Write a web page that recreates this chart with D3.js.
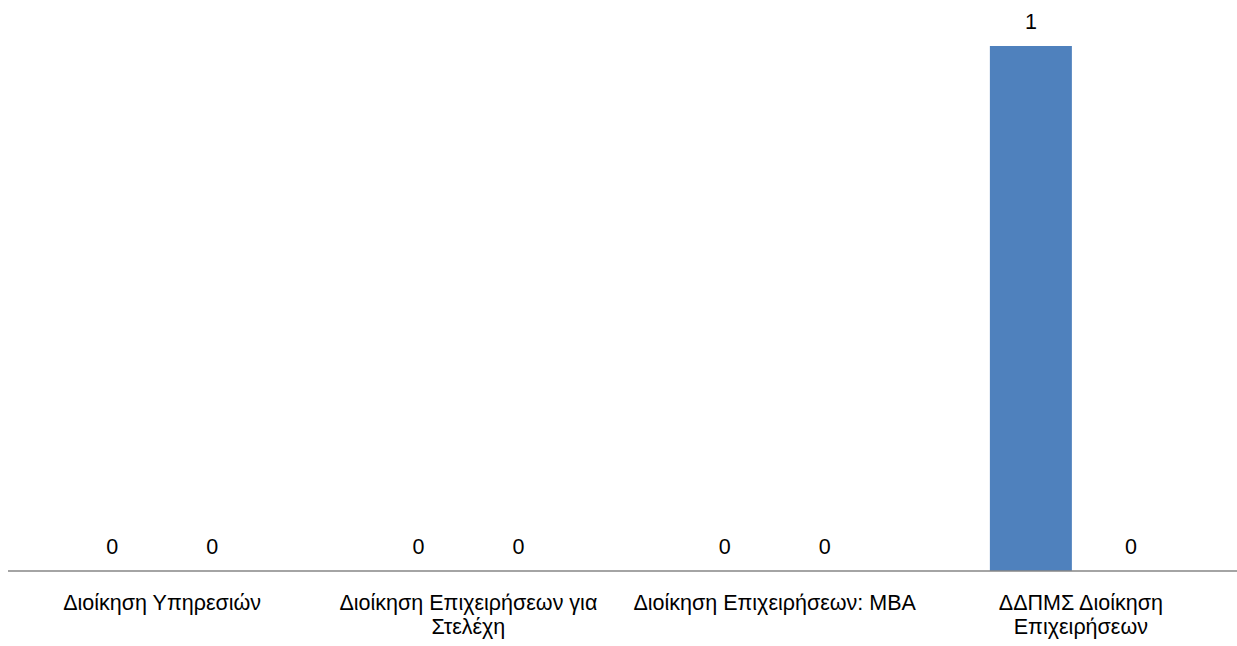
<!DOCTYPE html>
<html>
<head>
<meta charset="utf-8">
<script src="https://cdn.jsdelivr.net/npm/d3@7"></script>
<style>
  html, body { margin: 0; padding: 0; background: #fff; }
  svg text { font-family: "Liberation Sans", Arial, sans-serif; fill: #000; }
</style>
</head>
<body>
<svg id="chart" width="1237" height="646"></svg>
<script>
const categories = ["Διοίκηση Υπηρεσιών", "Διοίκηση Επιχειρήσεων για Στελέχη", "Διοίκηση Επιχειρήσεων: MBA", "ΔΔΠΜΣ Διοίκηση Επιχειρήσεων"];
const seriesNames = ["Σειρά 1", "Σειρά 2"];
const series1 = [0, 0, 0, 1];
const series2 = [0, 0, 0, 0];
const seriesColors = ["#4F81BD", "#C0504D"];

const svg = d3.select("#chart");
const plotLeft = 9, plotRight = 1234, plotTop = 46, plotBottom = 571;
const fontSize = 21.5;

const x0 = d3.scaleBand().domain(categories).range([plotLeft, plotRight]).padding(0);
const x1 = d3.scalePoint().domain(seriesNames).range([-50, 50]);
const barW = 82;
const y = d3.scaleLinear().domain([0, 1]).range([plotBottom, plotTop]);

const data = categories.map((c, i) => ({
  cat: c,
  vals: [series1[i], series2[i]].map((v, j) => ({ name: seriesNames[j], v, color: seriesColors[j] }))
}));

const g = svg.selectAll("g.cat").data(data).enter().append("g")
  .attr("class", "cat")
  .attr("transform", d => `translate(${x0(d.cat) + x0.bandwidth() / 2},0)`);

g.selectAll("rect").data(d => d.vals).enter().append("rect")
  .attr("x", d => x1(d.name) - barW / 2)
  .attr("width", barW)
  .attr("y", d => y(d.v))
  .attr("height", d => y(0) - y(d.v))
  .attr("fill", d => d.color);

g.selectAll("text.val").data(d => d.vals).enter().append("text")
  .attr("class", "val")
  .attr("x", d => x1(d.name))
  .attr("y", d => y(d.v) - 17.5)
  .attr("text-anchor", "middle")
  .style("font-size", fontSize + "px")
  .text(d => d.v);

// axis
const xAxis = d3.axisBottom(x0).tickSize(0).tickFormat("");
const ax = svg.append("g").attr("transform", `translate(0,${plotBottom})`).call(xAxis);
ax.select(".domain").attr("d", "M8,0H1237").attr("stroke", "#868686").attr("stroke-width", 1.5);

// category labels with wrapping
function wrapLines(text, maxW) {
  const words = text.split(" ");
  const lines = [];
  let cur = "";
  const tmp = svg.append("text").style("font-size", fontSize + "px");
  for (const w of words) {
    const test = cur ? cur + " " + w : w;
    tmp.text(test);
    if (tmp.node().getComputedTextLength() > maxW && cur) {
      lines.push(cur);
      cur = w;
    } else cur = test;
  }
  lines.push(cur);
  tmp.remove();
  return lines;
}

const maxLabelW = 295;
categories.forEach(c => {
  const lines = wrapLines(c, maxLabelW);
  const cx = x0(c) + x0.bandwidth() / 2;
  const t = svg.append("text")
    .attr("text-anchor", "middle")
    .style("font-size", fontSize + "px")
    .attr("x", cx)
    .attr("y", 609.5);
  lines.forEach((l, i) => {
    t.append("tspan").attr("x", cx).attr("dy", i === 0 ? 0 : 24.2).text(l);
  });
});
</script>
</body>
</html>
